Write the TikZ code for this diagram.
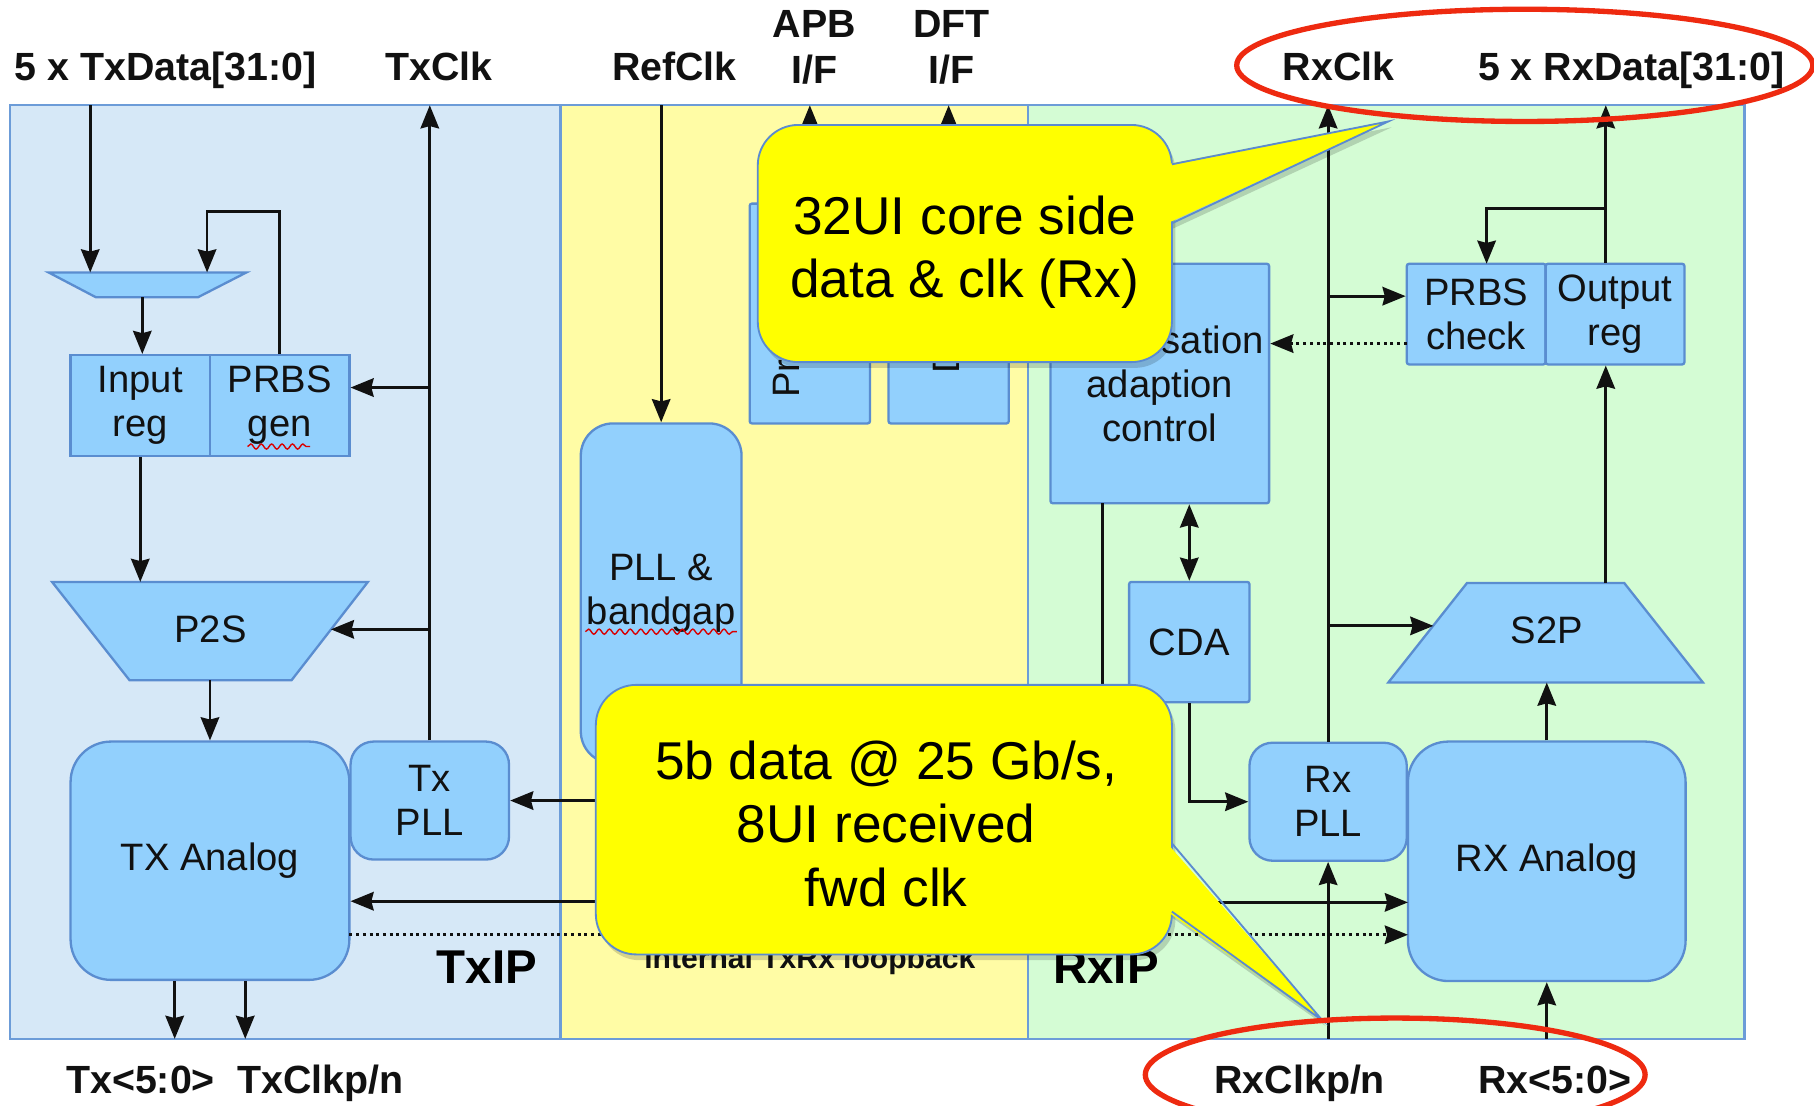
\documentclass[tikz,border=0pt]{standalone}
\usepackage{fontspec}
\setmainfont{Liberation Sans}
\usetikzlibrary{arrows.meta,decorations.pathmorphing,calc}
\definecolor{txbg}{HTML}{D6E8F7}
\definecolor{midbg}{HTML}{FFFCA5}
\definecolor{rxbg}{HTML}{D4FCD4}
\definecolor{frameln}{HTML}{6C9CD8}
\definecolor{blkfill}{HTML}{92D0FD}
\definecolor{blkline}{HTML}{5A8DD0}
\definecolor{callfill}{HTML}{FFFF00}
\definecolor{callline}{HTML}{5B8BD0}
\definecolor{ringred}{HTML}{EE2A10}
\definecolor{inkc}{HTML}{111111}
\begin{document}
\begin{tikzpicture}[x=0.5pt,y=-0.5pt,
  >={Stealth[length=10pt,width=8pt,inset=1pt]},
  blk/.style={draw=blkline,fill=blkfill,line width=1pt,inner sep=0pt,align=center,
     font=\fontsize{16.5}{19}\selectfont,text=inkc},
  blktext/.style={inner sep=0pt,font=\fontsize{16.5}{19}\selectfont,text=inkc},
  conn/.style={draw=inkc,line width=1.2pt,->},
  dotconn/.style={conn,dash pattern=on 1.3pt off 1.6pt},
  lbl/.style={font=\fontsize{17}{20}\selectfont\bfseries,text=inkc,inner sep=0pt,align=center},
  ipl/.style={font=\fontsize{20.5}{24}\selectfont\bfseries,text=black,inner sep=0pt},
  calltext/.style={font=\fontsize{23}{27.5}\selectfont,align=center,inner sep=0pt,text=black},
  callbody/.style={fill=callfill,draw=callline,line width=0.8pt},
  callshadow/.style={fill=black,opacity=0.16},
  redring/.style={draw=ringred,line width=2.3pt},
  squig/.style={draw=red!85!black,line width=0.6pt,decorate,decoration={snake,amplitude=1.1pt,segment length=4.5pt}},
]
\useasboundingbox (0,0) rectangle (1568,956);
\clip (0,0) rectangle (1568,956);
\fill[white] (0,0) rectangle (1568,956);

% regions
\fill[txbg] (8.5,91) rectangle (484.5,898);
\fill[midbg] (484.5,91) rectangle (888.5,898);
\fill[rxbg] (888.5,91) rectangle (1508,898);
\draw[frameln,line width=1pt] (8.5,91) rectangle (1508,898)
  (484.5,91) -- (484.5,898) (888.5,91) -- (888.5,898);

% ---------- Tx side ----------
\draw[blk] (42,235.5) -- (213,235.5) -- (171,257) -- (83,257) -- cycle;
\node[blk,minimum width=60.25pt,minimum height=43.5pt] (inreg) at (121.25,350.5) {Input\\reg};
\node[blk,minimum width=60.25pt,minimum height=43.5pt] (prbsgen) at (241.75,350.5) {PRBS\\gen};
\draw[blk] (45,503) -- (318,503) -- (252,588) -- (112,588) -- cycle;
\node[blktext] (p2s) at (182,544) {P2S};
\node[blk,rounded corners=17.5pt,minimum width=120.5pt,minimum height=103pt] (txan) at (181.5,744) {TX Analog};
\node[blk,rounded corners=10pt,minimum width=68.5pt,minimum height=51pt] (txpll) at (371.5,692) {Tx\\PLL};

% ---------- middle ----------
\node[blk,rounded corners=14pt,minimum width=69.5pt,minimum height=147pt] (pll) at (571.5,513) {PLL \&\\bandgap};
\node[blk,rounded corners=1pt,minimum width=52pt,minimum height=95pt] (apb) at (700,271) {};
\node[blk,rounded corners=1pt,minimum width=52pt,minimum height=95pt] (dft) at (820,271) {};
\node[blktext,rotate=90,anchor=west] (apbtxt) at (679.5,344) {Processor};
\node[blktext,rotate=90,anchor=west] (dfttxt) at (818,323) {DFT};

% ---------- Rx side ----------
\node[blk,rounded corners=1pt,minimum width=94.5pt,minimum height=103.5pt] (eq) at (1002.5,331.5) {Equalisation\\adaption\\control};
\node[blk,rounded corners=1pt,minimum width=60pt,minimum height=43.5pt] (prbschk) at (1276,271.5) {PRBS\\check};
\node[blk,rounded corners=1pt,minimum width=60pt,minimum height=43.5pt] (outreg) at (1396,271.5) {Output\\reg};
\node[blk,rounded corners=1pt,minimum width=52pt,minimum height=52pt] (cda) at (1028,555) {CDA};
\draw[blk] (1268,504) -- (1404,504) -- (1472,590) -- (1200,590) -- cycle;
\node[blktext] (s2p) at (1337,545) {S2P};
\node[blk,rounded corners=10pt,minimum width=68pt,minimum height=51pt] (rxpll) at (1148,693) {Rx\\PLL};
\node[blk,rounded corners=17.5pt,minimum width=120pt,minimum height=103.5pt] (rxan) at (1337,744.5) {RX Analog};

% spell-check squiggles
\draw[squig] (214,386) -- (268,386);
\draw[squig] (506,546) -- (637,546);

% coordinates
\coordinate (txdin) at (78,91);
\coordinate (muxin1) at (78,235.5);
\coordinate (muxin2) at (179,235.5);
\coordinate (fbtop) at (179,183);
\coordinate (muxout) at (123,257);
\coordinate (txclkout) at (371.5,91);
\coordinate (tcj1) at (371.5,335);
\coordinate (tcj2) at (371.5,544);
\coordinate (p2sin) at (286,544);
\coordinate (p2stop) at (181.5,503);
\coordinate (p2sout) at (181.5,588);
\coordinate (txo1) at (151,898);
\coordinate (txo2) at (212,898);
\coordinate (refin) at (571.5,91);
\coordinate (pllj) at (571.5,779);
\coordinate (lbs) at (302,808);
\coordinate (lbe) at (1217,808);
\coordinate (apbout) at (700,91);
\coordinate (dftout) at (820,91);
\coordinate (eqd) at (953,435);
\coordinate (rxin1) at (1217,780);
\coordinate (rxclkout) at (1148,91);
\coordinate (rxclkin) at (1148,898);
\coordinate (rcj1) at (1148,256);
\coordinate (rcj2) at (1148,541);
\coordinate (s2pin) at (1239,541);
\coordinate (dq) at (1216,297);
\coordinate (rxdout) at (1388,91);
\coordinate (orj) at (1388,180);
\coordinate (pcin) at (1285,228);
\coordinate (s2ptop) at (1388,504);
\coordinate (s2pbot) at (1337,590);
\coordinate (rxin) at (1337,898);

% connectors Tx
\draw[conn] (txdin) -- (muxin1);
\draw[conn] (prbsgen.north) |- (fbtop) -- (muxin2);
\draw[conn] (muxout) -- (muxout |- inreg.north);
\draw[conn] (txpll.north) -- (txclkout);
\draw[conn] (tcj1) -- (tcj1 -| prbsgen.east);
\draw[conn] (tcj2) -- (p2sin);
\draw[conn] (inreg.south) -- (inreg.south |- p2stop);
\draw[conn] (p2sout) -- (txan.north);
\draw[conn] (txan.south -| txo1) -- (txo1);
\draw[conn] (txan.south -| txo2) -- (txo2);
% middle
\draw[conn] (refin) -- (pll.north);
\draw[conn] (pll.south) -- (pllj) -- (pllj -| txan.east);
\draw[conn] (pll.south |- txpll.east) -- (txpll.east);
\draw[dotconn] (lbs) -- (lbe);
\draw[conn] (apb.north) -- (apbout);
\draw[conn] (dft.north) -- (dftout);
% Rx
\draw[conn] (eqd) |- (rxin1);
\draw[conn,<->] (eq.south -| cda.north) -- (cda.north);
\draw[conn] (cda.south) |- (rxpll.west);
\draw[conn] (rxclkin) -- (rxpll.south);
\draw[conn] (rxpll.north) -- (rxclkout);
\draw[conn] (rcj1) -- (rcj1 -| prbschk.west);
\draw[conn] (rcj2) -- (s2pin);
\draw[dotconn] (dq) -- (dq -| eq.east);
\draw[conn] (outreg.north -| orj) -- (rxdout);
\draw[conn] (orj) -| (pcin);
\draw[conn] (s2ptop) -- (s2ptop |- outreg.south);
\draw[conn] (rxan.north) -- (s2pbot);
\draw[conn] (rxin) -- (rxan.south);

% labels
\node[lbl,anchor=base] (txdata) at (143,70) {5 x TxData[31:0]};
\node[lbl,anchor=base] (txclk) at (379.5,70) {TxClk};
\node[lbl,anchor=base] (refclk) at (583,70) {RefClk};
\node[lbl,anchor=north] (apbif) at (704,8.5) {APB\\I/F};
\node[lbl,anchor=north] (dftif) at (822.5,8.5) {DFT\\I/F};
\node[lbl,anchor=base] (rxclk) at (1157,70) {RxClk};
\node[lbl,anchor=base] (rxdata) at (1410,70) {5 x RxData[31:0]};
\node[lbl,anchor=base] (txout) at (121.5,945) {Tx<5:0>};
\node[lbl,anchor=base] (txclkpn) at (277,945) {TxClkp/n};
\node[lbl,anchor=base] (rxclkpn) at (1123.5,945) {RxClkp/n};
\node[lbl,anchor=base] (rxpins) at (1344,945) {Rx<5:0>};
\node[ipl,anchor=base] (txip) at (421,850) {TxIP};
\node[ipl,anchor=base] (rxip) at (956,850) {RxIP};
\node[inner sep=0pt,anchor=base,font=\fontsize{13}{15}\selectfont\bfseries,text=inkc] (lbtext) at (700,837.5) {internal TxRx loopback};

% callout 1
\fill[callshadow,rounded corners=17.5pt] (658,113) rectangle (1016,318);
\fill[callshadow] (1013,147) -- (1203,110) -- (1013,198) -- cycle;
\draw[callbody,rounded corners=17.5pt] (655,108) rectangle (1013,313);
\fill[callfill] (1009,142) -- (1200,105) -- (1009,193) -- cycle;
\draw[callline,line width=0.8pt] (1013,142) -- (1200,105) -- (1013,193);
\node[calltext] (call1) at (834,218) {32UI core side\\data \& clk (Rx)};

% callout 2
\fill[callshadow,rounded corners=17.5pt] (518,597) rectangle (1016,830);
\fill[callshadow] (1013,734) -- (1146,887) -- (1013,793) -- cycle;
\draw[callbody,rounded corners=17.5pt] (515,592) rectangle (1013,825);
\fill[callfill] (1009,729) -- (1143,882) -- (1009,788) -- cycle;
\draw[callline,line width=0.8pt] (1013,729) -- (1143,882) -- (1013,788);
\node[calltext] (call2) at (766,712) {5b data @ 25 Gb/s,\\8UI received\\fwd clk};

% red rings
\draw[redring] (1318,56.5) ellipse [x radius=249, y radius=48.5];
\draw[redring] (1206,929) ellipse [x radius=216, y radius=49];
\end{tikzpicture}
\end{document}
